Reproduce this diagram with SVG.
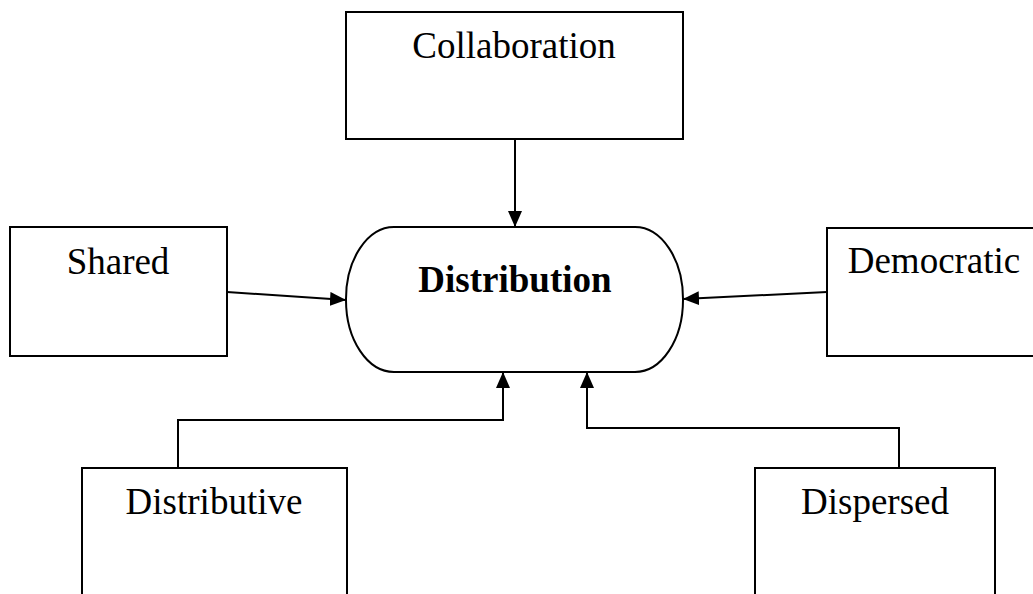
<svg xmlns="http://www.w3.org/2000/svg" width="1033" height="594" viewBox="0 0 1033 594">
<defs>
<marker id="ah" viewBox="0 0 16 14" refX="16" refY="7" markerWidth="16" markerHeight="14" markerUnits="userSpaceOnUse" orient="auto">
<path d="M0,0 L16,7 L0,14 Z" fill="#000"/>
</marker>
</defs>
<style>
.box{fill:#fff;stroke:#000;stroke-width:2}
.lbl{font-family:"Liberation Serif","Times New Roman",serif;font-size:37px;fill:#000;text-anchor:middle}
.b{font-weight:bold}
.edge{fill:none;stroke:#000;stroke-width:2;marker-end:url(#ah)}
</style>
<rect width="1033" height="594" fill="#fff"/>
<g id="collaboration">
<rect class="box" x="346" y="12" width="337" height="127"/>
<text class="lbl" x="514" y="58">Collaboration</text>
</g>
<g id="distribution">
<rect class="box" x="346" y="227" width="337" height="145" rx="48" ry="72"/>
<text class="lbl b" x="515" y="292">Distribution</text>
</g>
<g id="shared">
<rect class="box" x="10" y="227" width="217" height="129"/>
<text class="lbl" x="118" y="274">Shared</text>
</g>
<g id="democratic">
<rect class="box" x="827" y="228" width="214" height="128"/>
<text class="lbl" x="934" y="273">Democratic</text>
</g>
<g id="distributive">
<rect class="box" x="82" y="468" width="265" height="140"/>
<text class="lbl" x="214" y="514">Distributive</text>
</g>
<g id="dispersed">
<rect class="box" x="755" y="468" width="240" height="140"/>
<text class="lbl" x="875" y="514">Dispersed</text>
</g>
<g id="connectors">
<path class="edge" d="M515,139 L515,227"/>
<path class="edge" d="M227,292 L346,300"/>
<path class="edge" d="M827,292 L683,299"/>
<path class="edge" d="M178,468 L178,420 L503,420 L503,372"/>
<path class="edge" d="M899,468 L899,428 L587,428 L587,372"/>
</g>
</svg>
